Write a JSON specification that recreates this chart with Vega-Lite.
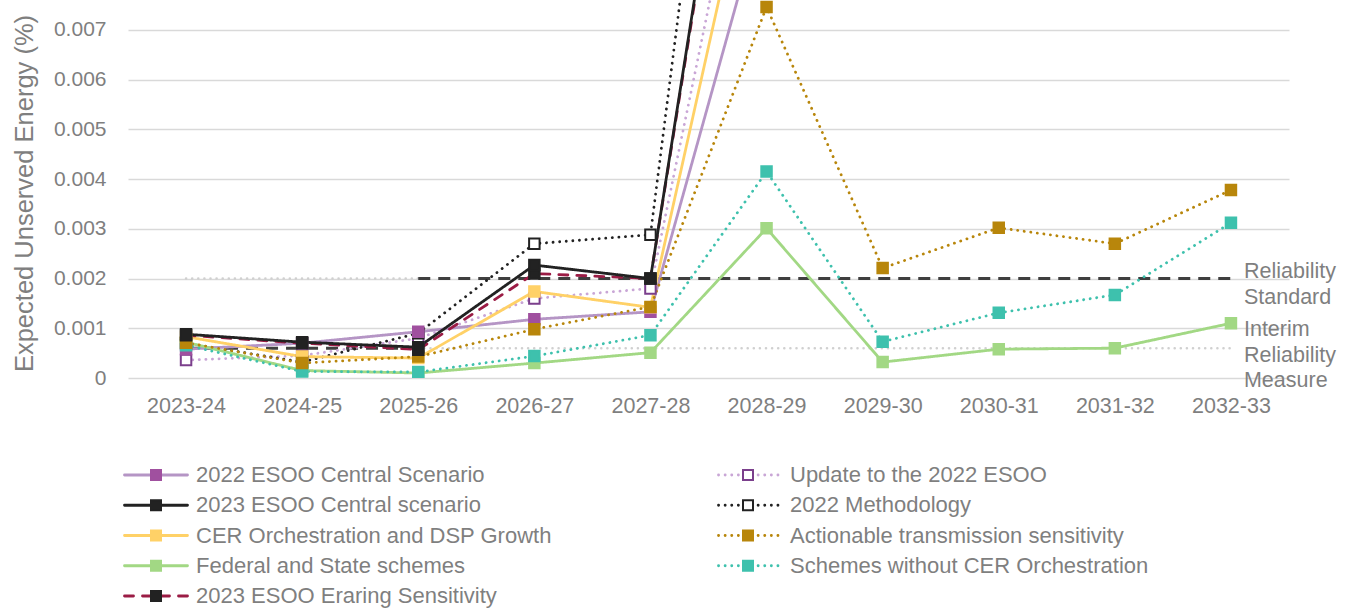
{
  "$schema": "https://vega.github.io/schema/vega-lite/v6.json",
  "width": 1161,
  "height": 378,
  "autosize": {"type": "none"},
  "padding": {"left": 128, "top": 0, "right": 63, "bottom": 231},
  "config": {"view": {"stroke": null}, "font": "Liberation Sans"},
  "datasets": {
    "eue": [
      {"series": "Update to the 2022 ESOO", "year": "2023-24", "value": 0.00036},
      {"series": "Update to the 2022 ESOO", "year": "2024-25", "value": 0.00045},
      {"series": "Update to the 2022 ESOO", "year": "2025-26", "value": 0.0008},
      {"series": "Update to the 2022 ESOO", "year": "2026-27", "value": 0.0016},
      {"series": "Update to the 2022 ESOO", "year": "2027-28", "value": 0.0018},
      {"series": "Update to the 2022 ESOO", "year": "2028-29", "value": 0.0131},
      {"series": "2022 Methodology", "year": "2023-24", "value": 0.0007},
      {"series": "2022 Methodology", "year": "2024-25", "value": 0.00032},
      {"series": "2022 Methodology", "year": "2025-26", "value": 0.0009},
      {"series": "2022 Methodology", "year": "2026-27", "value": 0.0027},
      {"series": "2022 Methodology", "year": "2027-28", "value": 0.00288},
      {"series": "2022 Methodology", "year": "2028-29", "value": 0.0213},
      {"series": "2022 ESOO Central Scenario", "year": "2023-24", "value": 0.00058},
      {"series": "2022 ESOO Central Scenario", "year": "2024-25", "value": 0.0007},
      {"series": "2022 ESOO Central Scenario", "year": "2025-26", "value": 0.00093},
      {"series": "2022 ESOO Central Scenario", "year": "2026-27", "value": 0.00118},
      {"series": "2022 ESOO Central Scenario", "year": "2027-28", "value": 0.00133},
      {"series": "2022 ESOO Central Scenario", "year": "2028-29", "value": 0.0097},
      {"series": "Federal and State schemes", "year": "2023-24", "value": 0.00072},
      {"series": "Federal and State schemes", "year": "2024-25", "value": 0.00015},
      {"series": "Federal and State schemes", "year": "2025-26", "value": 0.0001},
      {"series": "Federal and State schemes", "year": "2026-27", "value": 0.0003},
      {"series": "Federal and State schemes", "year": "2027-28", "value": 0.00051},
      {"series": "Federal and State schemes", "year": "2028-29", "value": 0.00301},
      {"series": "Federal and State schemes", "year": "2029-30", "value": 0.00032},
      {"series": "Federal and State schemes", "year": "2030-31", "value": 0.00058},
      {"series": "Federal and State schemes", "year": "2031-32", "value": 0.0006},
      {"series": "Federal and State schemes", "year": "2032-33", "value": 0.0011},
      {"series": "Schemes without CER Orchestration", "year": "2023-24", "value": 0.00066},
      {"series": "Schemes without CER Orchestration", "year": "2024-25", "value": 0.00013},
      {"series": "Schemes without CER Orchestration", "year": "2025-26", "value": 0.00012},
      {"series": "Schemes without CER Orchestration", "year": "2026-27", "value": 0.00044},
      {"series": "Schemes without CER Orchestration", "year": "2027-28", "value": 0.00086},
      {"series": "Schemes without CER Orchestration", "year": "2028-29", "value": 0.00415},
      {"series": "Schemes without CER Orchestration", "year": "2029-30", "value": 0.00073},
      {"series": "Schemes without CER Orchestration", "year": "2030-31", "value": 0.00131},
      {"series": "Schemes without CER Orchestration", "year": "2031-32", "value": 0.00167},
      {"series": "Schemes without CER Orchestration", "year": "2032-33", "value": 0.00312},
      {"series": "CER Orchestration and DSP Growth", "year": "2023-24", "value": 0.00083},
      {"series": "CER Orchestration and DSP Growth", "year": "2024-25", "value": 0.00043},
      {"series": "CER Orchestration and DSP Growth", "year": "2025-26", "value": 0.0004},
      {"series": "CER Orchestration and DSP Growth", "year": "2026-27", "value": 0.00174},
      {"series": "CER Orchestration and DSP Growth", "year": "2027-28", "value": 0.00142},
      {"series": "CER Orchestration and DSP Growth", "year": "2028-29", "value": 0.0119},
      {"series": "Actionable transmission sensitivity", "year": "2023-24", "value": 0.00071},
      {"series": "Actionable transmission sensitivity", "year": "2024-25", "value": 0.0003},
      {"series": "Actionable transmission sensitivity", "year": "2025-26", "value": 0.00043},
      {"series": "Actionable transmission sensitivity", "year": "2026-27", "value": 0.00098},
      {"series": "Actionable transmission sensitivity", "year": "2027-28", "value": 0.00143},
      {"series": "Actionable transmission sensitivity", "year": "2028-29", "value": 0.00746},
      {"series": "Actionable transmission sensitivity", "year": "2029-30", "value": 0.00221},
      {"series": "Actionable transmission sensitivity", "year": "2030-31", "value": 0.00302},
      {"series": "Actionable transmission sensitivity", "year": "2031-32", "value": 0.0027},
      {"series": "Actionable transmission sensitivity", "year": "2032-33", "value": 0.00378},
      {"series": "2023 ESOO Eraring Sensitivity", "year": "2023-24", "value": 0.00086},
      {"series": "2023 ESOO Eraring Sensitivity", "year": "2024-25", "value": 0.0007},
      {"series": "2023 ESOO Eraring Sensitivity", "year": "2025-26", "value": 0.00057},
      {"series": "2023 ESOO Eraring Sensitivity", "year": "2026-27", "value": 0.0021},
      {"series": "2023 ESOO Eraring Sensitivity", "year": "2027-28", "value": 0.002},
      {"series": "2023 ESOO Eraring Sensitivity", "year": "2028-29", "value": 0.0166},
      {"series": "2023 ESOO Central scenario", "year": "2023-24", "value": 0.00088},
      {"series": "2023 ESOO Central scenario", "year": "2024-25", "value": 0.00072},
      {"series": "2023 ESOO Central scenario", "year": "2025-26", "value": 0.00062},
      {"series": "2023 ESOO Central scenario", "year": "2026-27", "value": 0.00227},
      {"series": "2023 ESOO Central scenario", "year": "2027-28", "value": 0.002},
      {"series": "2023 ESOO Central scenario", "year": "2028-29", "value": 0.0168}
    ],
    "ref": [
      {"standard": "Reliability Standard", "status": "not in force", "year": "2023-24", "value": 0.002},
      {"standard": "Reliability Standard", "status": "not in force", "year": "2025-26", "value": 0.002},
      {"standard": "Reliability Standard", "status": "in force", "year": "2025-26", "value": 0.002},
      {"standard": "Reliability Standard", "status": "in force", "year": "2032-33", "value": 0.002},
      {"standard": "Interim Reliability Measure", "status": "in force", "year": "2023-24", "value": 0.0006},
      {"standard": "Interim Reliability Measure", "status": "in force", "year": "2025-26", "value": 0.0006},
      {"standard": "Interim Reliability Measure", "status": "not in force", "year": "2025-26", "value": 0.0006},
      {"standard": "Interim Reliability Measure", "status": "not in force", "year": "2032-33", "value": 0.0006}
    ],
    "labels": [
      {"standard": "Reliability Standard", "year": "2032-33", "value": 0.002, "label": ["Reliability", "Standard"]},
      {"standard": "Interim Reliability Measure", "year": "2032-33", "value": 0.0006, "label": ["Interim", "Reliability", "Measure"]}
    ]
  },
  "encoding": {
    "x": {
      "field": "year", "type": "ordinal", "title": null,
      "scale": {"type": "point", "padding": 0.5, "domain": ["2023-24","2024-25","2025-26","2026-27","2027-28","2028-29","2029-30","2030-31","2031-32","2032-33"]},
      "axis": {"domain": false, "ticks": false, "grid": false, "labelAngle": 0, "labelPadding": 17, "labelFontSize": 21.5, "labelColor": "#7f7f7f", "labelFont": "Liberation Sans"}
    },
    "y": {
      "field": "value", "type": "quantitative",
      "scale": {"domain": [0, 0.0076], "nice": false},
      "axis": {
        "title": "Expected Unserved Energy (%)", "values": [0, 0.001, 0.002, 0.003, 0.004, 0.005, 0.006, 0.007],
        "format": ".3~f", "domain": false, "ticks": false, "labelPadding": 22, "labelFontSize": 21, "labelColor": "#7f7f7f", "labelFont": "Liberation Sans",
        "grid": true, "gridColor": "#d9d9d9", "gridWidth": 1.5,
        "titleFontSize": 25.5, "titleFontWeight": "normal", "titleColor": "#7f7f7f", "titleFont": "Liberation Sans", "titlePadding": 16, "titleY": 193
      }
    }
  },
  "layer": [
    {
      "data": {"name": "ref"},
      "transform": [{"filter": "datum.status === 'not in force'"}],
      "mark": {"type": "line", "color": "#d0d0d0", "strokeWidth": 2.5, "strokeDash": [0.1, 6], "strokeCap": "round"},
      "encoding": {"detail": {"field": "standard"}}
    },
    {
      "data": {"name": "ref"},
      "transform": [{"filter": "datum.status === 'in force'"}],
      "mark": {"type": "line", "color": "#3f3f3f", "strokeWidth": 3, "strokeDash": [12, 8]},
      "encoding": {"detail": {"field": "standard"}}
    },
    {
      "data": {"name": "eue"},
      "mark": {"type": "line", "strokeWidth": 2.8, "strokeCap": "round", "clip": true},
      "encoding": {
        "color": {
          "field": "series", "type": "nominal",
          "scale": {
            "domain": ["2022 ESOO Central Scenario","2023 ESOO Central scenario","CER Orchestration and DSP Growth","Federal and State schemes","2023 ESOO Eraring Sensitivity","Update to the 2022 ESOO","2022 Methodology","Actionable transmission sensitivity","Schemes without CER Orchestration"],
            "range": ["#b595c5","#222222","#ffd167","#a2d884","#9b1c45","#c9a6d6","#222222","#b8860b","#3ec1ad"]
          },
          "legend": {"title": null, "orient": "none", "legendX": 17, "legendY": 464, "columns": 2, "columnPadding": 160, "rowPadding": 8.25, "padding": 0,
            "symbolType": "M-6.3,0H6.3", "symbolSize": 100, "symbolStrokeWidth": 2.8, "labelOffset": 29,
            "labelFontSize": 22, "labelColor": "#7f7f7f", "labelFont": "Liberation Sans", "labelLimit": 0,
            "encoding": {"symbols": {"strokeCap": {"value": "round"}}}}
        },
        "strokeDash": {
          "field": "series", "type": "nominal",
          "scale": {
            "domain": ["2022 ESOO Central Scenario","2023 ESOO Central scenario","CER Orchestration and DSP Growth","Federal and State schemes","2023 ESOO Eraring Sensitivity","Update to the 2022 ESOO","2022 Methodology","Actionable transmission sensitivity","Schemes without CER Orchestration"],
            "range": [[1,0],[1,0],[1,0],[1,0],[9,9],[0.1,6.5],[0.1,6.5],[0.1,6.5],[0.1,6.5]]
          },
          "legend": {"title": null, "orient": "none", "legendX": 17, "legendY": 464, "columns": 2, "columnPadding": 160, "rowPadding": 8.25, "padding": 0,
            "symbolType": "M-6.3,0H6.3", "symbolSize": 100, "symbolStrokeWidth": 2.8, "labelOffset": 29,
            "labelFontSize": 22, "labelColor": "#7f7f7f", "labelFont": "Liberation Sans", "labelLimit": 0}
        }
      }
    },
    {
      "data": {"name": "eue"},
      "mark": {"type": "point", "shape": "square", "size": 110, "filled": true, "strokeWidth": 2, "opacity": 1, "clip": true},
      "encoding": {
        "fill": {
          "field": "series", "type": "nominal",
          "scale": {
            "domain": ["Update to the 2022 ESOO","2022 Methodology","2022 ESOO Central Scenario","Federal and State schemes","Schemes without CER Orchestration","CER Orchestration and DSP Growth","Actionable transmission sensitivity","2023 ESOO Eraring Sensitivity","2023 ESOO Central scenario"],
            "range": ["#ffffff","#ffffff","#a0509f","#a2d884","#3ec1ad","#ffd167","#b8860b","#222222","#222222"]
          },
          "legend": {"title": null, "orient": "none", "legendX": 17, "legendY": 464, "columns": 2, "columnPadding": 160, "rowPadding": 8.25, "padding": 0,
            "values": ["2022 ESOO Central Scenario","2023 ESOO Central scenario","CER Orchestration and DSP Growth","Federal and State schemes","2023 ESOO Eraring Sensitivity","Update to the 2022 ESOO","2022 Methodology","Actionable transmission sensitivity","Schemes without CER Orchestration"],
            "symbolType": "M-6.3,0M-1,-1H1V1H-1ZM6.3,0", "symbolSize": 100, "symbolStrokeWidth": 2, "symbolOpacity": 1, "labelOffset": 29,
            "labelFontSize": 22, "labelOpacity": 0, "labelFont": "Liberation Sans", "labelLimit": 0}
        },
        "stroke": {
          "field": "series", "type": "nominal",
          "scale": {
            "domain": ["Update to the 2022 ESOO","2022 Methodology","2022 ESOO Central Scenario","Federal and State schemes","Schemes without CER Orchestration","CER Orchestration and DSP Growth","Actionable transmission sensitivity","2023 ESOO Eraring Sensitivity","2023 ESOO Central scenario"],
            "range": ["#7b3f8c","#222222","#a0509f","#a2d884","#3ec1ad","#ffd167","#b8860b","#222222","#222222"]
          },
          "legend": {"title": null, "orient": "none", "legendX": 17, "legendY": 464, "columns": 2, "columnPadding": 160, "rowPadding": 8.25, "padding": 0,
            "values": ["2022 ESOO Central Scenario","2023 ESOO Central scenario","CER Orchestration and DSP Growth","Federal and State schemes","2023 ESOO Eraring Sensitivity","Update to the 2022 ESOO","2022 Methodology","Actionable transmission sensitivity","Schemes without CER Orchestration"],
            "symbolType": "M-6.3,0M-1,-1H1V1H-1ZM6.3,0", "symbolSize": 100, "symbolStrokeWidth": 2, "symbolOpacity": 1, "labelOffset": 29,
            "labelFontSize": 22, "labelOpacity": 0, "labelFont": "Liberation Sans", "labelLimit": 0}
        }
      }
    },
    {
      "data": {"name": "labels"},
      "transform": [{"filter": "datum.standard === 'Reliability Standard'"}],
      "mark": {"type": "text", "align": "left", "baseline": "middle", "dx": 13, "dy": -7, "lineHeight": 26, "fontSize": 21.5, "color": "#7f7f7f", "font": "Liberation Sans"},
      "encoding": {"text": {"field": "label"}}
    },
    {
      "data": {"name": "labels"},
      "transform": [{"filter": "datum.standard === 'Interim Reliability Measure'"}],
      "mark": {"type": "text", "align": "left", "baseline": "middle", "dx": 13, "dy": -18, "lineHeight": 25.5, "fontSize": 21.5, "color": "#7f7f7f", "font": "Liberation Sans"},
      "encoding": {"text": {"field": "label"}}
    }
  ]
}
